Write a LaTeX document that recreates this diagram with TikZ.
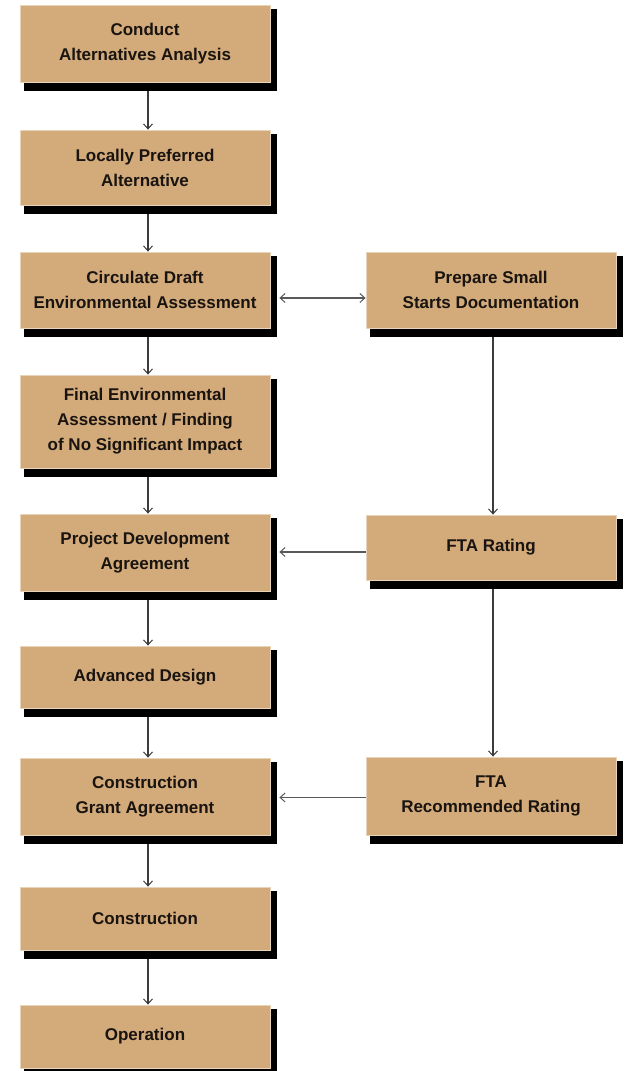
\documentclass[tikz,border=0pt]{standalone}
\usepackage{fontspec}
\setmainfont{Liberation Sans}
\usetikzlibrary{arrows.meta,backgrounds,calc}
\definecolor{boxfill}{RGB}{211,170,122}
\definecolor{boxedge}{RGB}{232,212,185}
\definecolor{txt}{RGB}{25,20,16}
\definecolor{linec}{RGB}{60,60,60}
\tikzset{
  stagebox/.style={fill=boxfill, draw=boxedge, line width=0.8pt, minimum width=250pt,
    inner sep=0pt, align=center, text=txt,
    font=\fontsize{17}{25}\selectfont\bfseries},
  arr/.style={draw=linec, line width=1.5pt, -{Straight Barb[length=5pt,width=9pt,line width=1pt]}},
  darr/.style={draw=linec!85, line width=1.2pt, {Straight Barb[length=5pt,width=9pt,line width=1pt]}-{Straight Barb[length=5pt,width=9pt,line width=1pt]}},
  harr/.style={draw=linec!85, line width=1.2pt, -{Straight Barb[length=5pt,width=9pt,line width=1pt]}},
}
\begin{document}
\begin{tikzpicture}[x=1pt,y=-1pt]
\useasboundingbox (0,0) rectangle (624,1071);
\node[stagebox, minimum height=77pt] (c1) at (145,43.5) {Conduct\\Alternatives Analysis};
\node[stagebox, minimum height=75pt] (c2) at (145,167.5) {Locally Preferred\\Alternative};
\node[stagebox, minimum height=76pt] (c3) at (145,290) {Circulate Draft\\Environmental Assessment};
\node[stagebox, minimum height=93pt] (c4) at (145,421.5) {Final Environmental\\Assessment / Finding\\of No Significant Impact};
\node[stagebox, minimum height=77pt] (c5) at (145,552.5) {Project Development\\Agreement};
\node[stagebox, minimum height=62pt] (c6) at (145,677) {Advanced Design};
\node[stagebox, minimum height=77pt] (c7) at (145,796.5) {Construction\\Grant Agreement};
\node[stagebox, minimum height=63pt] (c8) at (145,918.5) {Construction};
\node[stagebox, minimum height=63pt] (c9) at (145,1036.5) {Operation};
\node[stagebox, minimum height=76pt] (r1) at (491,290) {Prepare Small\\Starts Documentation};
\node[stagebox, minimum height=65pt] (r2) at (491,547.5) {FTA Rating};
\node[stagebox, minimum height=78pt] (r3) at (491,796) {FTA\\Recommended Rating};
\begin{scope}[on background layer]
  \foreach \n in {c1,c2,c3,c4,c5,c6,c7,c8,c9,r1,r2,r3}
    \fill[black] ([shift={(4pt,-4pt)}]\n.north west) rectangle ([shift={(7pt,-9pt)}]\n.south east);
\end{scope}
% vertical arrows, left column
\foreach \a/\b in {c1/c2,c2/c3,c3/c4,c4/c5,c5/c6,c6/c7,c7/c8,c8/c9}
  \draw[arr] ([shift={(3pt,-9pt)}]\a.south) -- ([xshift=3pt]\b.north);
% right column
\draw[arr] ([shift={(2pt,-9pt)}]r1.south) -- ([xshift=2pt]r2.north);
\draw[arr] ([shift={(2pt,-9pt)}]r2.south) -- ([xshift=2pt]r3.north);
% horizontal arrows
\coordinate (h1) at ([yshift=-8pt]r1.west);
\coordinate (h2) at ([yshift=-4.5pt]r2.west);
\coordinate (h3) at ([yshift=-1.5pt]r3.west);
\draw[darr] (h1) -- ($(c3.east |- h1)+(9pt,0)$);
\draw[harr] (h2) -- ($(c5.east |- h2)+(9pt,0)$);
\draw[harr] (h3) -- ($(c7.east |- h3)+(9pt,0)$);
\end{tikzpicture}
\end{document}
